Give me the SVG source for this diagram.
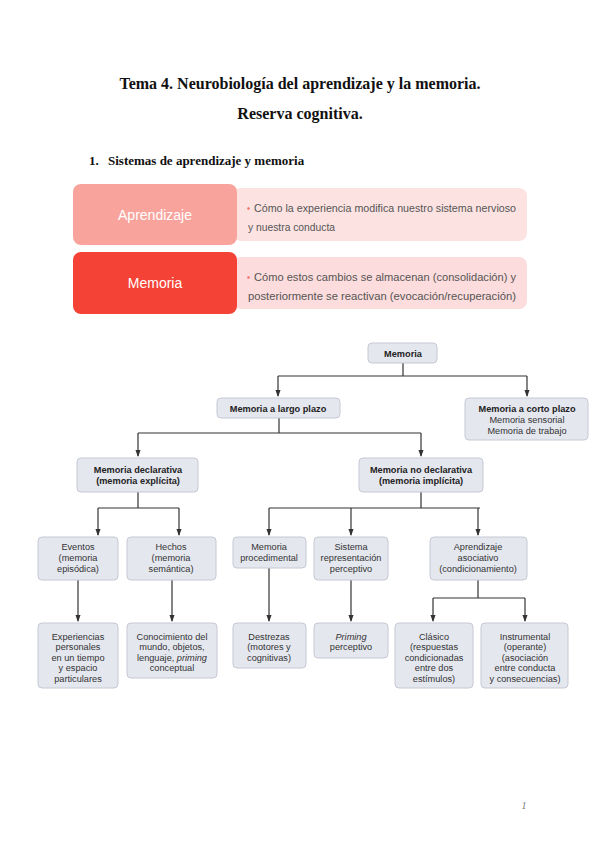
<svg xmlns="http://www.w3.org/2000/svg" width="600" height="848" viewBox="0 0 600 848">
<defs>
<marker id="ah" viewBox="0 0 8 8" refX="7" refY="4" markerWidth="7" markerHeight="7" markerUnits="userSpaceOnUse" orient="auto">
<path d="M0,1 L8,4 L0,7 z" fill="#333"/>
</marker>
<style>
.title{font-family:"Liberation Serif",serif;font-weight:bold;fill:#111;text-anchor:middle}
.sec{font-family:"Liberation Serif",serif;font-weight:bold;font-size:13px;fill:#111}
.lbl{font-family:"Liberation Sans",Arial,sans-serif;font-size:14px;fill:#fff;text-anchor:middle}
.bul{font-family:"Liberation Sans",Arial,sans-serif;font-size:10.3px;fill:#555}
.dot{fill:#f0706a}
.box{fill:#e5e7ef;stroke:#c6c8d3;stroke-width:1}
.t{font-family:"Liberation Sans",Arial,sans-serif;font-size:9.2px;fill:#333;text-anchor:middle}
.b{font-weight:bold;fill:#222}
.c{fill:none;stroke:#333;stroke-width:1.2}
.a{fill:none;stroke:#333;stroke-width:1.2;marker-end:url(#ah)}
</style>
</defs>
<rect width="600" height="848" fill="#fff"/>

<g id="header">
<text class="title" x="300" y="89" font-size="16">Tema 4. Neurobiología del aprendizaje y la memoria.</text>
<text class="title" x="300" y="119" font-size="16">Reserva cognitiva.</text>
<text class="sec" x="89" y="165">1.</text>
<text class="sec" x="108" y="165">Sistemas de aprendizaje y memoria</text>
</g>

<g id="aprendizaje">
<rect x="233" y="188" width="294" height="53" rx="8" fill="#fce3e2"/>
<rect x="73" y="184" width="164" height="61" rx="8" fill="#f8a49d"/>
<text class="lbl" x="155" y="220">Aprendizaje</text>
<circle class="dot" cx="248.5" cy="208.5" r="1.3"/>
<text class="bul" x="254" y="212" textLength="262" lengthAdjust="spacingAndGlyphs">Cómo la experiencia modifica nuestro sistema nervioso</text>
<text class="bul" x="248" y="231">y nuestra conducta</text>
</g>

<g id="memoria-def">
<rect x="233" y="257" width="294" height="52" rx="8" fill="#fcdcdc"/>
<rect x="73" y="252" width="164" height="62" rx="8" fill="#f44336"/>
<text class="lbl" x="155" y="288">Memoria</text>
<circle class="dot" cx="248.5" cy="277.5" r="1.3"/>
<text class="bul" x="254" y="281" textLength="262" lengthAdjust="spacingAndGlyphs">Cómo estos cambios se almacenan (consolidación) y</text>
<text class="bul" x="248" y="300" textLength="268" lengthAdjust="spacingAndGlyphs">posteriormente se reactivan (evocación/recuperación)</text>
</g>

<g id="connectors">
<path class="c" d="M403,363 V376 M278,376 H527"/>
<path class="a" d="M278,376 V396"/>
<path class="a" d="M527,376 V396"/>
<path class="c" d="M279,418 V433 M138,433 H421"/>
<path class="a" d="M138,433 V456"/>
<path class="a" d="M421,433 V456"/>
<path class="c" d="M138,492 V508 M98,508 H179"/>
<path class="a" d="M98,508 V535"/>
<path class="a" d="M179,508 V535"/>
<path class="c" d="M421,492 V508 M269,508 H480"/>
<path class="a" d="M269,508 V535"/>
<path class="a" d="M351,508 V535"/>
<path class="a" d="M478,508 V535"/>
<path class="a" d="M78,580 V621"/>
<path class="a" d="M172,580 V621"/>
<path class="a" d="M269,568 V621"/>
<path class="a" d="M351,580 V621"/>
<path class="c" d="M478,580 V598 M433,598 H525"/>
<path class="a" d="M433,598 V621"/>
<path class="a" d="M525,598 V621"/>
</g>

<g id="n-memoria">
<rect class="box" x="368" y="343" width="69" height="20" rx="4"/>
<text class="t b" x="403" y="356.5">Memoria</text>
</g>
<g id="n-largo">
<rect class="box" x="217" y="398" width="123" height="20" rx="4"/>
<text class="t b" x="278" y="411.5">Memoria a largo plazo</text>
</g>
<g id="n-corto">
<rect class="box" x="465" y="398" width="123" height="42" rx="4"/>
<text class="t b" x="527" y="411.5">Memoria a corto plazo</text>
<text class="t" x="527" y="422.5">Memoria sensorial</text>
<text class="t" x="527" y="433.5">Memoria de trabajo</text>
</g>
<g id="n-declarativa">
<rect class="box" x="77" y="458" width="121" height="34" rx="4"/>
<text class="t b" x="138" y="473">Memoria declarativa</text>
<text class="t b" x="138" y="484">(memoria explícita)</text>
</g>
<g id="n-nodeclarativa">
<rect class="box" x="359" y="458" width="124" height="34" rx="4"/>
<text class="t b" x="421" y="473">Memoria no declarativa</text>
<text class="t b" x="421" y="484">(memoria implícita)</text>
</g>
<g id="n-eventos">
<rect class="box" x="38" y="537" width="80" height="43" rx="4"/>
<text class="t" x="78" y="550">Eventos</text>
<text class="t" x="78" y="561">(memoria</text>
<text class="t" x="78" y="571.5">episódica)</text>
</g>
<g id="n-hechos">
<rect class="box" x="127" y="537" width="89" height="43" rx="4"/>
<text class="t" x="171" y="550">Hechos</text>
<text class="t" x="171" y="561">(memoria</text>
<text class="t" x="171" y="571.5">semántica)</text>
</g>
<g id="n-procedimental">
<rect class="box" x="233" y="537" width="73" height="31" rx="4"/>
<text class="t" x="269" y="549.5">Memoria</text>
<text class="t" x="269" y="560.5">procedimental</text>
</g>
<g id="n-sistema">
<rect class="box" x="314" y="537" width="74" height="43" rx="4"/>
<text class="t" x="351" y="549.5">Sistema</text>
<text class="t" x="351" y="560.5">representación</text>
<text class="t" x="351" y="571.5">perceptivo</text>
</g>
<g id="n-asociativo">
<rect class="box" x="430" y="537" width="97" height="43" rx="4"/>
<text class="t" x="478" y="549.5">Aprendizaje</text>
<text class="t" x="478" y="560.5">asociativo</text>
<text class="t" x="478" y="571.5">(condicionamiento)</text>
</g>
<g id="n-experiencias">
<rect class="box" x="38" y="623" width="80" height="65" rx="4"/>
<text class="t" x="78" y="639.5">Experiencias</text>
<text class="t" x="78" y="650">personales</text>
<text class="t" x="78" y="660.5">en un tiempo</text>
<text class="t" x="78" y="671">y espacio</text>
<text class="t" x="78" y="681.5">particulares</text>
</g>
<g id="n-conocimiento">
<rect class="box" x="127" y="623" width="90" height="55" rx="4"/>
<text class="t" x="172" y="639.5">Conocimiento del</text>
<text class="t" x="172" y="650">mundo, objetos,</text>
<text class="t" x="172" y="660.5">lenguaje, <tspan font-style="italic">priming</tspan></text>
<text class="t" x="172" y="671">conceptual</text>
</g>
<g id="n-destrezas">
<rect class="box" x="233" y="623" width="73" height="45" rx="4"/>
<text class="t" x="269" y="639.5">Destrezas</text>
<text class="t" x="269" y="650">(motores y</text>
<text class="t" x="269" y="660.5">cognitivas)</text>
</g>
<g id="n-priming">
<rect class="box" x="314" y="623" width="74" height="35" rx="4"/>
<text class="t" x="351" y="639.5" font-style="italic">Priming</text>
<text class="t" x="351" y="650">perceptivo</text>
</g>
<g id="n-clasico">
<rect class="box" x="395" y="623" width="78" height="65" rx="4"/>
<text class="t" x="434" y="639.5">Clásico</text>
<text class="t" x="434" y="650">(respuestas</text>
<text class="t" x="434" y="660.5">condicionadas</text>
<text class="t" x="434" y="671">entre dos</text>
<text class="t" x="434" y="681.5">estímulos)</text>
</g>
<g id="n-instrumental">
<rect class="box" x="481" y="623" width="87" height="65" rx="4"/>
<text class="t" x="525" y="639.5">Instrumental</text>
<text class="t" x="525" y="650">(operante)</text>
<text class="t" x="525" y="660.5">(asociación</text>
<text class="t" x="525" y="671">entre conducta</text>
<text class="t" x="525" y="681.5">y consecuencias)</text>
</g>

<g id="page">
<text x="524" y="809" font-family="Liberation Serif,serif" font-style="italic" font-size="10" fill="#777" text-anchor="middle">1</text>
</g>
</svg>
